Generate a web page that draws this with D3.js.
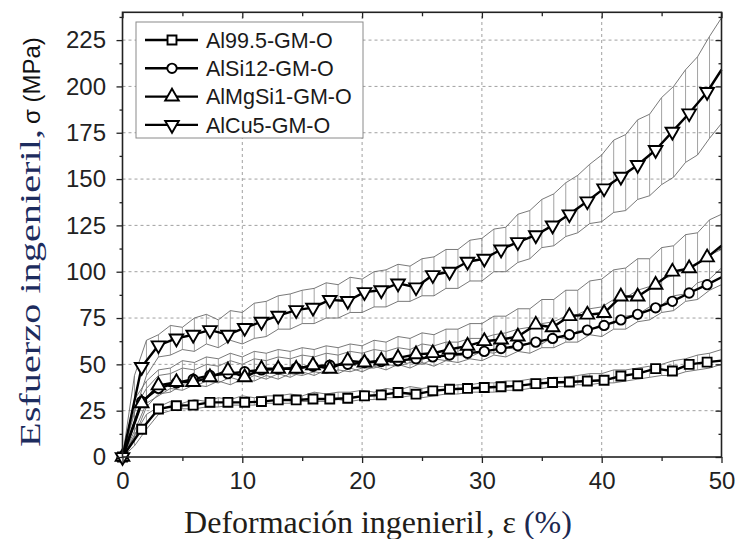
<!DOCTYPE html>
<html><head><meta charset="utf-8">
<script src="https://cdn.jsdelivr.net/npm/d3@7/dist/d3.min.js"></script>
<style>body{margin:0;background:#fff}</style>
</head><body><svg id="c" width="738" height="539"></svg>
<script>
// ---- data ----
const seriesNames = ["Al99.5-GM-O", "AlSi12-GM-O", "AlMgSi1-GM-O", "AlCu5-GM-O"];
const seriesSymbols = ["square", "circle", "triangle", "triangleDown"];

const xTicks = [0, 10, 20, 30, 40, 50];
const xMinorTicks = [5, 15, 25, 35, 45];
const yTicks = [0, 25, 50, 75, 100, 125, 150, 175, 200, 225];
const yMinorTicks = [12.5, 37.5, 62.5, 87.5, 112.5, 137.5, 162.5, 187.5, 212.5, 237.5];

// mean curves (strain %, marker positions)
const meanStrain = [0, 1.6, 3.0, 4.5, 5.9, 7.3, 8.8, 10.2, 11.6, 13.0, 14.5, 15.9, 17.3, 18.8, 20.2, 21.6, 23.0, 24.5, 25.9, 27.3, 28.8, 30.2, 31.6, 33.0, 34.5, 35.9, 37.3, 38.8, 40.2, 41.6, 43.0, 44.5, 45.9, 47.3, 48.8, 50];
const al995Mean = [0, 15, 25.9, 27.7, 28, 29.5, 29.5, 29.5, 29.9, 30.8, 30.8, 31.3, 31.3, 31.7, 33, 33.5, 34.8, 33.9, 35.7, 36.6, 37, 37.5, 37.9, 38.4, 39.6, 40.2, 40.5, 41, 41.4, 43.7, 45, 47.7, 46.4, 50, 51.2, 52];
const alsi12Mean = [0, 30, 37, 40, 42, 44, 45, 46, 47, 47.5, 48, 49, 49.5, 50, 51, 51.5, 52, 53, 54, 55, 56, 57, 58.5, 60, 62, 64, 66, 68.5, 71, 74, 77, 80.5, 84, 88.5, 93, 97];
const almgsi1Mean = [0, 29, 38.6, 40.4, 40.4, 43, 46.7, 43, 47.6, 47.6, 47.6, 49.5, 47.6, 52, 51, 52, 53.5, 55.4, 56, 58, 60, 62.5, 63.4, 65, 71.4, 70, 76, 76.8, 77.7, 86.6, 86.6, 92.9, 100, 101.8, 107.7, 114];
const alcu5Mean = [0, 48.6, 60.3, 64, 66, 68.5, 66, 69.7, 73, 76.3, 79.3, 80.6, 84.8, 84.2, 89, 90, 93.7, 91.6, 98.2, 100, 105.4, 107, 112, 116, 119.7, 125, 131, 138, 145, 151.3, 157.6, 165.7, 175.6, 185.5, 197, 209];

// scatter bands (upper / lower envelopes)
const bandStrain = [0,1,2,3,4,5,6,7,8,9,10,11,12,13,14,15,16,17,18,19,20,21,22,23,24,25,26,27,28,29,30,31,32,33,34,35,36,37,38,39,40,41,42,43,44,45,46,47,48,49,50];
const al995Upper = [0,12,23,27,30,29,31,30,32,31,33,32,33,33,34,33,35,34,35,35,36,35,37,36,38,37,38,38,39,39,40,40,41,41,42,42,43,43,44,45,45,47,47,48,49,50,52,53,55,56,58];
const al995Lower = [0,6,15,23,25,26,26,27,27,28,28,28,29,29,29,30,30,30,31,30,31,31,32,32,33,32,33,34,34,35,35,35,36,36,37,37,38,38,39,39,40,40,41,42,43,44,44,46,47,48,50];
const alsi12Upper = [0,26,37,44,45,48,47,50,49,52,50,53,52,54,53,55,54,56,55,57,56,58,57,59,58,61,60,62,62,64,64,66,67,69,70,72,73,76,77,80,81,85,86,90,92,96,98,102,104,109,112];
const alsi12Lower = [0,11,27,34,35,39,38,41,40,43,41,44,42,45,43,46,44,47,45,48,46,49,47,50,48,51,49,52,51,53,52,55,54,57,56,59,59,62,62,66,65,69,69,73,74,78,79,84,85,90,93];
const almgsi1Upper = [0,31,41,47,48,52,51,54,53,56,54,57,56,58,57,59,58,60,59,61,60,63,62,65,64,67,66,69,69,72,72,76,76,80,80,85,85,90,90,95,96,101,102,107,107,113,114,120,121,128,131];
const almgsi1Lower = [0,14,29,33,37,36,39,38,41,39,42,41,44,42,45,44,46,45,47,46,48,48,50,49,51,50,53,52,55,54,57,56,59,58,62,61,65,64,68,68,72,72,76,77,81,82,87,88,94,96,102];
const alcu5Upper = [0,44,63,66,71,70,75,77,74,79,78,83,84,87,88,90,91,94,93,97,96,100,101,104,103,107,108,112,112,117,118,123,124,131,133,139,142,148,152,158,163,171,174,182,185,194,200,209,216,227,237];
const alcu5Lower = [0,24,44,54,55,58,57,61,59,63,61,64,65,69,69,72,72,75,75,78,78,81,81,84,84,87,87,91,91,95,95,100,100,105,107,113,114,119,121,126,127,132,133,139,141,147,151,159,163,172,180];

const means = [al995Mean, alsi12Mean, almgsi1Mean, alcu5Mean];
const uppers = [al995Upper, alsi12Upper, almgsi1Upper, alcu5Upper];
const lowers = [al995Lower, alsi12Lower, almgsi1Lower, alcu5Lower];

// ---- chart ----
const svg = d3.select("#c");
const x = d3.scaleLinear().domain([0, 50]).range([122.5, 721.5]);
const y = d3.scaleLinear().domain([0, 240]).range([457, 12.3]);
const sans = "'Liberation Sans', Arial, sans-serif";
const serif = "'Liberation Serif', 'Times New Roman', serif";

// grid
const grid = svg.append("g").attr("stroke", "#a0a0a0").attr("stroke-width", 1).attr("stroke-dasharray", "3,3");
grid.selectAll("line.gx").data(xTicks.filter(d => d > 0 && d < 50)).join("line")
  .attr("class", "gx")
  .attr("x1", d => x(d)).attr("x2", d => x(d)).attr("y1", y(0)).attr("y2", y(240));
grid.selectAll("line.gy").data(yTicks.filter(d => d > 0)).join("line")
  .attr("class", "gy")
  .attr("x1", x(0)).attr("x2", x(50)).attr("y1", d => y(d)).attr("y2", d => y(d));

const plot = svg.append("g");
// bands
uppers.forEach((up, i) => {
  const lo = lowers[i];
  const pts = bandStrain.map((s, k) => ({s, u: up[k], l: lo[k]}));
  plot.append("g").attr("stroke", "#8c8c8c").attr("stroke-width", 0.8)
    .selectAll("line").data(pts).join("line")
    .attr("x1", d => x(d.s)).attr("x2", d => x(d.s))
    .attr("y1", d => y(d.u)).attr("y2", d => y(d.l));
  const lineU = d3.line().x(d => x(d.s)).y(d => y(d.u));
  const lineL = d3.line().x(d => x(d.s)).y(d => y(d.l));
  plot.append("path").attr("d", lineU(pts)).attr("fill", "none").attr("stroke", "#6a6a6a").attr("stroke-width", 0.9);
  plot.append("path").attr("d", lineL(pts)).attr("fill", "none").attr("stroke", "#6a6a6a").attr("stroke-width", 0.9);
});

// symbol generator
function symPath(type, size) {
  const map = {square: d3.symbolSquare, circle: d3.symbolCircle, triangle: d3.symbolTriangle, triangleDown: d3.symbolTriangle};
  return d3.symbol().type(map[type]).size(size)();
}
const symSize = {square: 80, circle: 70, triangle: 80, triangleDown: 80};

// mean lines + markers
means.forEach((m, i) => {
  const pts = meanStrain.map((s, k) => ({s, v: m[k]}));
  plot.append("path").attr("d", d3.line().x(d => x(d.s)).y(d => y(d.v))(pts))
    .attr("fill", "none").attr("stroke", "#000").attr("stroke-width", 2.4).attr("stroke-linejoin", "round");
});
means.forEach((m, i) => {
  const type = seriesSymbols[i];
  const pts = meanStrain.map((s, k) => ({s, v: m[k]})).filter(d => d.s < 50);
  plot.append("g").selectAll("path").data(pts).join("path")
    .attr("d", symPath(type, symSize[type]))
    .attr("transform", d => `translate(${x(d.s)},${y(d.v)})` + (type === "triangleDown" ? " rotate(180)" : ""))
    .attr("fill", "#fff").attr("stroke", "#000").attr("stroke-width", 1.9);
});

// axes
function styleAxis(g) { g.select(".domain").remove(); g.selectAll("line").attr("stroke", "#222").attr("stroke-width", 1.3); }
svg.append("g").attr("transform", `translate(${x(0)},0)`)
  .call(d3.axisLeft(y).tickValues(yTicks).tickSize(6).tickPadding(10.5))
  .call(styleAxis)
  .call(g => g.selectAll("text").attr("font-family", sans).attr("font-size", 24).attr("fill", "#222"));
svg.append("g").attr("transform", `translate(${x(0)},0)`)
  .call(d3.axisLeft(y).tickValues(yMinorTicks).tickSize(3).tickFormat(""))
  .call(styleAxis);
svg.append("g").attr("transform", `translate(0,${y(0)})`)
  .call(d3.axisBottom(x).tickValues(xTicks).tickSize(6).tickPadding(9))
  .call(styleAxis)
  .call(g => g.selectAll("text").attr("font-family", sans).attr("font-size", 24).attr("fill", "#222"));
svg.append("g").attr("transform", `translate(0,${y(0)})`)
  .call(d3.axisBottom(x).tickValues(xMinorTicks).tickSize(4).tickFormat(""))
  .call(styleAxis);
// mirrored ticks (inward)
svg.append("g").attr("transform", `translate(0,${y(240)})`)
  .call(d3.axisBottom(x).tickValues(xTicks).tickSize(6).tickFormat("")).call(styleAxis);
svg.append("g").attr("transform", `translate(0,${y(240)})`)
  .call(d3.axisBottom(x).tickValues(xMinorTicks).tickSize(4).tickFormat("")).call(styleAxis);
svg.append("g").attr("transform", `translate(${x(50)},0)`)
  .call(d3.axisLeft(y).tickValues(yTicks).tickSize(6).tickFormat("")).call(styleAxis);
svg.append("g").attr("transform", `translate(${x(50)},0)`)
  .call(d3.axisLeft(y).tickValues(yMinorTicks).tickSize(3).tickFormat("")).call(styleAxis);

// frame
svg.append("rect").attr("x", x(0)).attr("y", y(240)).attr("width", x(50) - x(0)).attr("height", y(0) - y(240))
  .attr("fill", "none").attr("stroke", "#222").attr("stroke-width", 1.6);

// legend
const lg = svg.append("g").attr("transform", "translate(136,22)");
lg.append("rect").attr("width", 227).attr("height", 116).attr("fill", "#fff").attr("stroke", "#8a8a8a").attr("stroke-width", 1);
seriesNames.forEach((name, i) => {
  const type = seriesSymbols[i];
  const row = lg.append("g").attr("transform", `translate(0,${18 + i * 28.3})`);
  row.append("line").attr("x1", 9).attr("x2", 62).attr("stroke", "#000").attr("stroke-width", 2.4);
  row.append("path").attr("d", symPath(type, symSize[type]))
    .attr("transform", "translate(36,0)" + (type === "triangleDown" ? " rotate(180)" : ""))
    .attr("fill", "#fff").attr("stroke", "#000").attr("stroke-width", 1.9);
  row.append("text").attr("x", 70).attr("y", 0).attr("dy", "0.36em")
    .attr("font-family", sans).attr("font-size", 21.5).attr("fill", "#1a1a1a").text(name);
});

// axis titles
svg.append("text").attr("x", 378).attr("y", 533).attr("text-anchor", "middle")
  .attr("font-family", serif).attr("font-size", 32).attr("fill", "#221d18")
  .call(t => {
    t.append("tspan").text("Deformación ingenieril");
    t.append("tspan").attr("dx", 3).text(", ε ");
    t.append("tspan").attr("fill", "#1c2850").text("(%)");
  });

svg.append("text").attr("transform", "translate(40,447) rotate(-90)")
  .attr("text-anchor", "start")
  .attr("font-family", serif).attr("font-size", 29).attr("fill", "#1d2c5e")
  .attr("textLength", 318).attr("lengthAdjust", "spacingAndGlyphs")
  .text("Esfuerzo ingenieril,");
svg.append("text").attr("transform", "translate(40,124) rotate(-90)")
  .attr("text-anchor", "start")
  .attr("font-family", sans).attr("font-size", 24).attr("fill", "#111")
  .text(" σ (MPa)");
</script>
</body></html>
